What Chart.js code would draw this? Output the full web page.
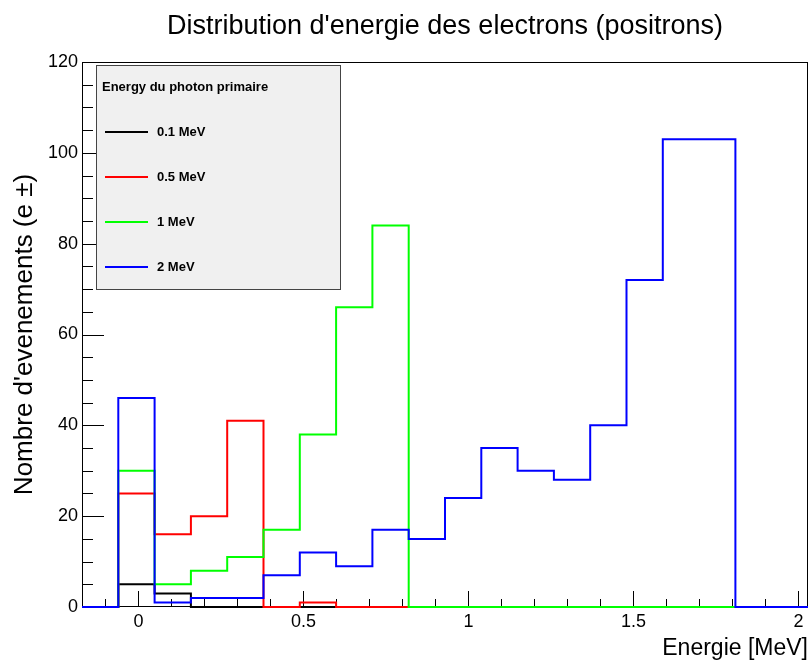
<!DOCTYPE html>
<html>
<head>
<meta charset="utf-8">
<script src="https://cdn.jsdelivr.net/npm/chart.js@4"></script>
<style>
  body { margin: 0; background: #fff; }
</style>
</head>
<body>
<canvas id="energyChart" width="811" height="664"></canvas>
<script>
// histogram binning (MeV)
const binLow = -0.171;
const binWidth = 0.11;
const nBins = 20;

// counts per bin for each primary photon energy
const labels = ['0.1 MeV', '0.5 MeV', '1 MeV', '2 MeV'];
const counts01 = [0, 5, 3, 0, 0, 0, 0, 0, 0, 0, 0, 0, 0, 0, 0, 0, 0, 0, 0, 0];
const counts05 = [0, 25, 16, 20, 41, 0, 1, 0, 0, 0, 0, 0, 0, 0, 0, 0, 0, 0, 0, 0];
const counts1 = [0, 30, 5, 8, 11, 17, 38, 66, 84, 0, 0, 0, 0, 0, 0, 0, 0, 0, 0, 0];
const counts2 = [0, 46, 1, 2, 2, 7, 12, 9, 17, 15, 24, 35, 30, 28, 40, 72, 103, 103, 0, 0];
const colors = ['#000000', '#ff0000', '#00ff00', '#0000ff'];

const xTicks = [0, 0.5, 1, 1.5, 2];
const yTicks = [0, 20, 40, 60, 80, 100, 120];

const FONT = 'Liberation Sans, Arial, Helvetica, sans-serif';

// turn bin counts into step points (left edge of each bin + closing edge)
function histPoints(counts) {
    const pts = counts.map((c, i) => ({ x: binLow + i * binWidth, y: c }));
    pts.push({ x: binLow + nBins * binWidth, y: counts[counts.length - 1] });
    return pts;
}

const allCounts = [counts01, counts05, counts1, counts2];

// frame + inward ticks, ROOT style
const framePlugin = {
    id: 'frame',
    beforeDatasetsDraw(chart) {
        const { ctx, chartArea: a, scales: { x, y } } = chart;
        ctx.save();
        ctx.strokeStyle = '#000';
        ctx.lineWidth = 1;
        ctx.strokeRect(a.left + 0.5, a.top + 0.5, a.right - a.left - 1, a.bottom - a.top - 1);

        ctx.beginPath();
        for (let v = -1; v <= 20; v++) {
            const px = Math.round(x.getPixelForValue(v / 10)) + 0.5;
            if (px < a.left || px > a.right) continue;
            const len = v % 5 === 0 ? 16 : 8;
            ctx.moveTo(px, a.bottom);
            ctx.lineTo(px, a.bottom - len);
        }
        for (let v = 0; v <= 120; v += 5) {
            const py = Math.round(y.getPixelForValue(v)) + 0.5;
            const len = v % 20 === 0 ? 22 : 11;
            ctx.moveTo(a.left, py);
            ctx.lineTo(a.left + len, py);
        }
        ctx.stroke();
        ctx.restore();
    },
    afterDatasetsDraw(chart) {
        const { ctx } = chart;
        const bx = 96, by = 65, bw = 244, bh = 224;
        ctx.save();
        ctx.fillStyle = '#f0f0f0';
        ctx.fillRect(bx, by, bw, bh);
        ctx.strokeStyle = '#444';
        ctx.lineWidth = 1;
        ctx.strokeRect(bx + 0.5, by + 0.5, bw, bh);

        ctx.fillStyle = '#000';
        ctx.font = 'bold 13px ' + FONT;
        ctx.textBaseline = 'middle';
        ctx.fillText('Energy du photon primaire', 102, 87);

        chart.data.datasets.forEach((ds, i) => {
            const ly = 132 + i * 45;
            ctx.strokeStyle = ds.borderColor;
            ctx.lineWidth = 2;
            ctx.beginPath();
            ctx.moveTo(105, ly);
            ctx.lineTo(148, ly);
            ctx.stroke();
            ctx.fillText(ds.label, 157, ly);
        });
        ctx.restore();
    }
};

new Chart(document.getElementById('energyChart'), {
    type: 'line',
    data: {
        datasets: allCounts.map((c, i) => ({
            label: labels[i],
            data: histPoints(c),
            borderColor: colors[i],
            borderWidth: 2,
            pointRadius: 0,
            stepped: true,
            fill: false,
            clip: 3,
            order: allCounts.length - i
        }))
    },
    options: {
        responsive: false,
        animation: false,
        devicePixelRatio: 1,
        layout: { padding: { right: 3 } },
        plugins: {
            legend: { display: false },
            tooltip: { enabled: false },
            title: {
                display: true,
                fullSize: false,
                text: "Distribution d'energie des electrons (positrons)",
                color: '#000',
                font: { family: FONT, size: 27, weight: 'normal' },
                padding: { top: 10, bottom: 19.6 }
            }
        },
        scales: {
            x: {
                type: 'linear',
                min: binLow,
                max: binLow + nBins * binWidth,
                afterBuildTicks: s => { s.ticks = xTicks.map(v => ({ value: v })); },
                afterFit: s => { s.height = 57; },
                grid: { display: false, drawTicks: false },
                border: { display: false },
                ticks: {
                    color: '#000',
                    font: { family: FONT, size: 18 },
                    padding: 4,
                    maxRotation: 0,
                    autoSkip: false,
                    callback: v => String(v)
                },
                title: {
                    display: true,
                    text: 'Energie [MeV]',
                    align: 'end',
                    color: '#000',
                    font: { family: FONT, size: 23 },
                    padding: { top: 0, bottom: 2 }
                }
            },
            y: {
                min: 0,
                max: 120,
                afterBuildTicks: s => { s.ticks = yTicks.map(v => ({ value: v })); },
                afterFit: s => { s.width = 82; },
                grid: { display: false, drawTicks: false },
                border: { display: false },
                ticks: {
                    color: '#000',
                    font: { family: FONT, size: 18 },
                    padding: 4,
                    callback: v => String(v)
                },
                title: {
                    display: true,
                    text: "Nombre d'evenements (e \u00b1)",
                    color: '#000',
                    font: { family: FONT, size: 26 },
                    padding: { top: 9, bottom: 0 }
                }
            }
        }
    },
    plugins: [framePlugin]
});
</script>
</body>
</html>
